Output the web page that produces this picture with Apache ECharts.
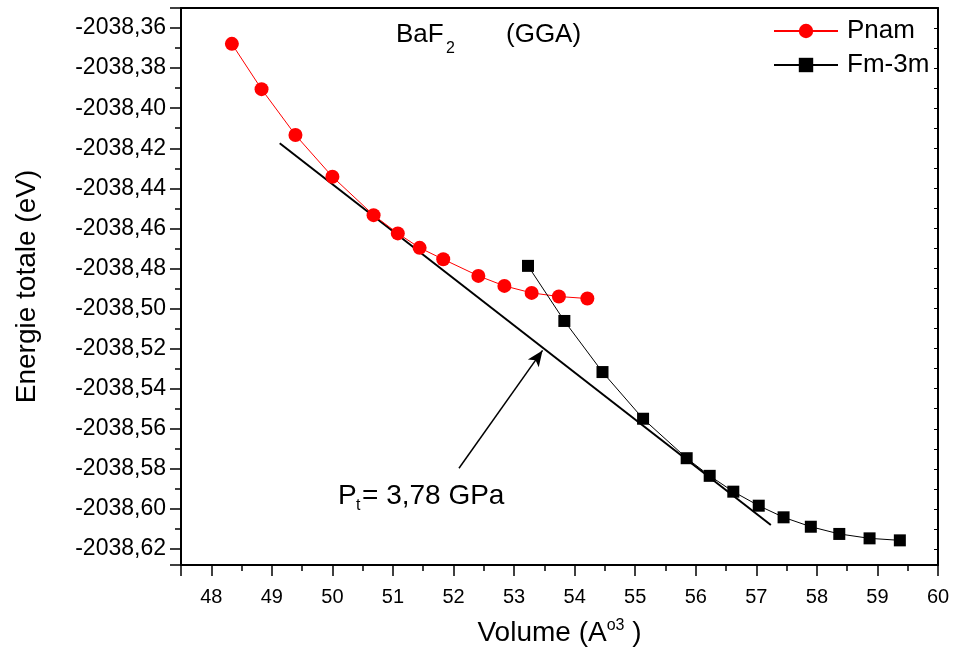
<!DOCTYPE html>
<html>
<head>
<meta charset="utf-8">
<script src="https://cdn.jsdelivr.net/npm/echarts@6/dist/echarts.min.js"></script>
<style>
html,body{margin:0;padding:0;background:#fff;}
#chart{width:954px;height:652px;}
</style>
</head>
<body>
<div id="chart"></div>
<script>
// ---- data ----
const xPnam = [48.34, 48.83, 49.39, 50.00, 50.68, 51.08, 51.44, 51.83, 52.41, 52.84, 53.29, 53.74, 54.21];
const ePnam = [-2038.3679, -2038.3905, -2038.4134, -2038.4342, -2038.4534, -2038.4625, -2038.4697, -2038.4754, -2038.4837, -2038.4887, -2038.4922, -2038.4940, -2038.4950];
const xFm = [53.23, 53.83, 54.46, 55.13, 55.85, 56.23, 56.62, 57.04, 57.45, 57.90, 58.37, 58.87, 59.37];
const eFm = [-2038.4787, -2038.5062, -2038.5317, -2038.5550, -2038.5747, -2038.5835, -2038.5914, -2038.5984, -2038.6042, -2038.6089, -2038.6125, -2038.6147, -2038.6157];
const xTangent = [49.13, 57.24];
const eTangent = [-2038.4175, -2038.6080];
const xArrow = [52.09, 53.47];
const eArrow = [-2038.5797, -2038.5209];
const seriesNames = ['Pnam', 'Fm-3m'];
const xRange = [47.5, 60];
const yRange = [-2038.628, -2038.35];

const FONT = '"Liberation Sans", Arial, sans-serif';
const zip = (a, b) => a.map((v, i) => [v, b[i]]);

const chart = echarts.init(document.getElementById('chart'), null, {renderer: 'canvas'});

const axisLineStyle = {color: '#000', width: 2};

const option = {
  backgroundColor: '#fff',
  animation: false,
  grid: {left: 181, right: 16, top: 8, bottom: 87, containLabel: false, outerBoundsMode: 'none'},
  legend: {
    data: seriesNames,
    orient: 'vertical',
    left: 768,
    top: 13,
    itemWidth: 64,
    itemHeight: 18,
    itemGap: 8,
    textStyle: {fontFamily: FONT, fontSize: 26, color: '#000', padding: [0, 0, 0, 4]},
    selectedMode: false
  },
  xAxis: [{
    type: 'value',
    min: xRange[0], max: xRange[1],
    minInterval: 1, maxInterval: 1, splitNumber: 12,
    name: '{n|Volume (A}{s|o3}{n| )}',
    nameLocation: 'middle',
    nameGap: 53,
    nameTextStyle: {
      rich: {
        n: {fontFamily: FONT, fontSize: 28, color: '#000', lineHeight: 30},
        s: {fontFamily: FONT, fontSize: 16, color: '#000', verticalAlign: 'top', lineHeight: 16}
      }
    },
    axisLine: {show: true, onZero: false, lineStyle: axisLineStyle},
    axisTick: {show: true, inside: false, length: 11, lineStyle: {color: '#000', width: 1.5}},
    minorTick: {show: true, splitNumber: 2, length: 6, lineStyle: {color: '#000', width: 1.5}},
    axisLabel: {show: true, showMinLabel: false, margin: 22, fontFamily: FONT, fontSize: 20, color: '#000'},
    splitLine: {show: false},
    minorSplitLine: {show: false}
  }, {
    type: 'value',
    position: 'top',
    min: xRange[0], max: xRange[1],
    axisLine: {show: true, onZero: false, lineStyle: axisLineStyle},
    axisTick: {show: false},
    axisLabel: {show: false},
    splitLine: {show: false}
  }],
  yAxis: [{
    type: 'value',
    min: yRange[0], max: yRange[1],
    minInterval: 0.02, maxInterval: 0.02, splitNumber: 14,
    name: 'Energie totale (eV)',
    nameLocation: 'middle',
    nameRotate: 90,
    nameGap: 140,
    nameTextStyle: {fontFamily: FONT, fontSize: 28, color: '#000'},
    axisLine: {show: true, onZero: false, lineStyle: axisLineStyle},
    axisTick: {show: true, inside: false, length: 11, lineStyle: {color: '#000', width: 1.5}},
    minorTick: {show: true, splitNumber: 2, length: 6, lineStyle: {color: '#000', width: 1.5}},
    axisLabel: {
      show: true, showMinLabel: false, showMaxLabel: false, margin: 15,
      fontFamily: FONT, fontSize: 23, color: '#000',
      formatter: v => v.toFixed(2).replace('.', ',')
    },
    splitLine: {show: false},
    minorSplitLine: {show: false}
  }, {
    type: 'value',
    position: 'right',
    min: yRange[0], max: yRange[1],
    minInterval: 0.02, maxInterval: 0.02, splitNumber: 14,
    axisLine: {show: true, onZero: false, lineStyle: axisLineStyle},
    axisTick: {show: true, inside: true, length: 4, lineStyle: {color: '#000', width: 1}},
    minorTick: {show: true, splitNumber: 2, length: 4, lineStyle: {color: '#000', width: 1}},
    axisLabel: {show: false},
    splitLine: {show: false}
  }],
  graphic: [
    {type: 'text', left: 396, top: 22, style: {text: 'BaF', font: '26px ' + FONT, fill: '#000'}},
    {type: 'text', left: 446, top: 41, style: {text: '2', font: '16px ' + FONT, fill: '#000'}},
    {type: 'text', left: 506, top: 22, style: {text: '(GGA)', font: '26px ' + FONT, fill: '#000'}},
    {type: 'text', left: 338, top: 482, style: {text: 'P', font: '28px ' + FONT, fill: '#000'}},
    {type: 'text', left: 356, top: 498, style: {text: 't', font: '16px ' + FONT, fill: '#000'}},
    {type: 'text', left: 362, top: 482, style: {text: '= 3,78 GPa', font: '28px ' + FONT, fill: '#000'}}
  ],
  series: [
    {
      name: 'Pnam',
      type: 'line',
      data: zip(xPnam, ePnam),
      symbol: 'circle',
      symbolSize: 14,
      itemStyle: {color: '#ff0000'},
      lineStyle: {color: '#ff0000', width: 1},
      z: 3
    },
    {
      name: 'Fm-3m',
      type: 'line',
      data: zip(xFm, eFm),
      symbol: 'rect',
      symbolSize: 12,
      itemStyle: {color: '#000'},
      lineStyle: {color: '#000', width: 1},
      z: 3
    },
    {
      name: 'tangent',
      type: 'line',
      data: zip(xTangent, eTangent),
      symbol: 'none',
      lineStyle: {color: '#000', width: 2},
      silent: true,
      z: 2,
      markLine: {
        silent: true,
        symbol: ['none', 'arrow'],
        symbolSize: [10, 16],
        label: {show: false},
        lineStyle: {color: '#000', width: 1.5, type: 'solid'},
        data: [[{coord: [xArrow[0], eArrow[0]]}, {coord: [xArrow[1], eArrow[1]]}]]
      }
    }
  ]
};
chart.setOption(option);
</script>
</body>
</html>
